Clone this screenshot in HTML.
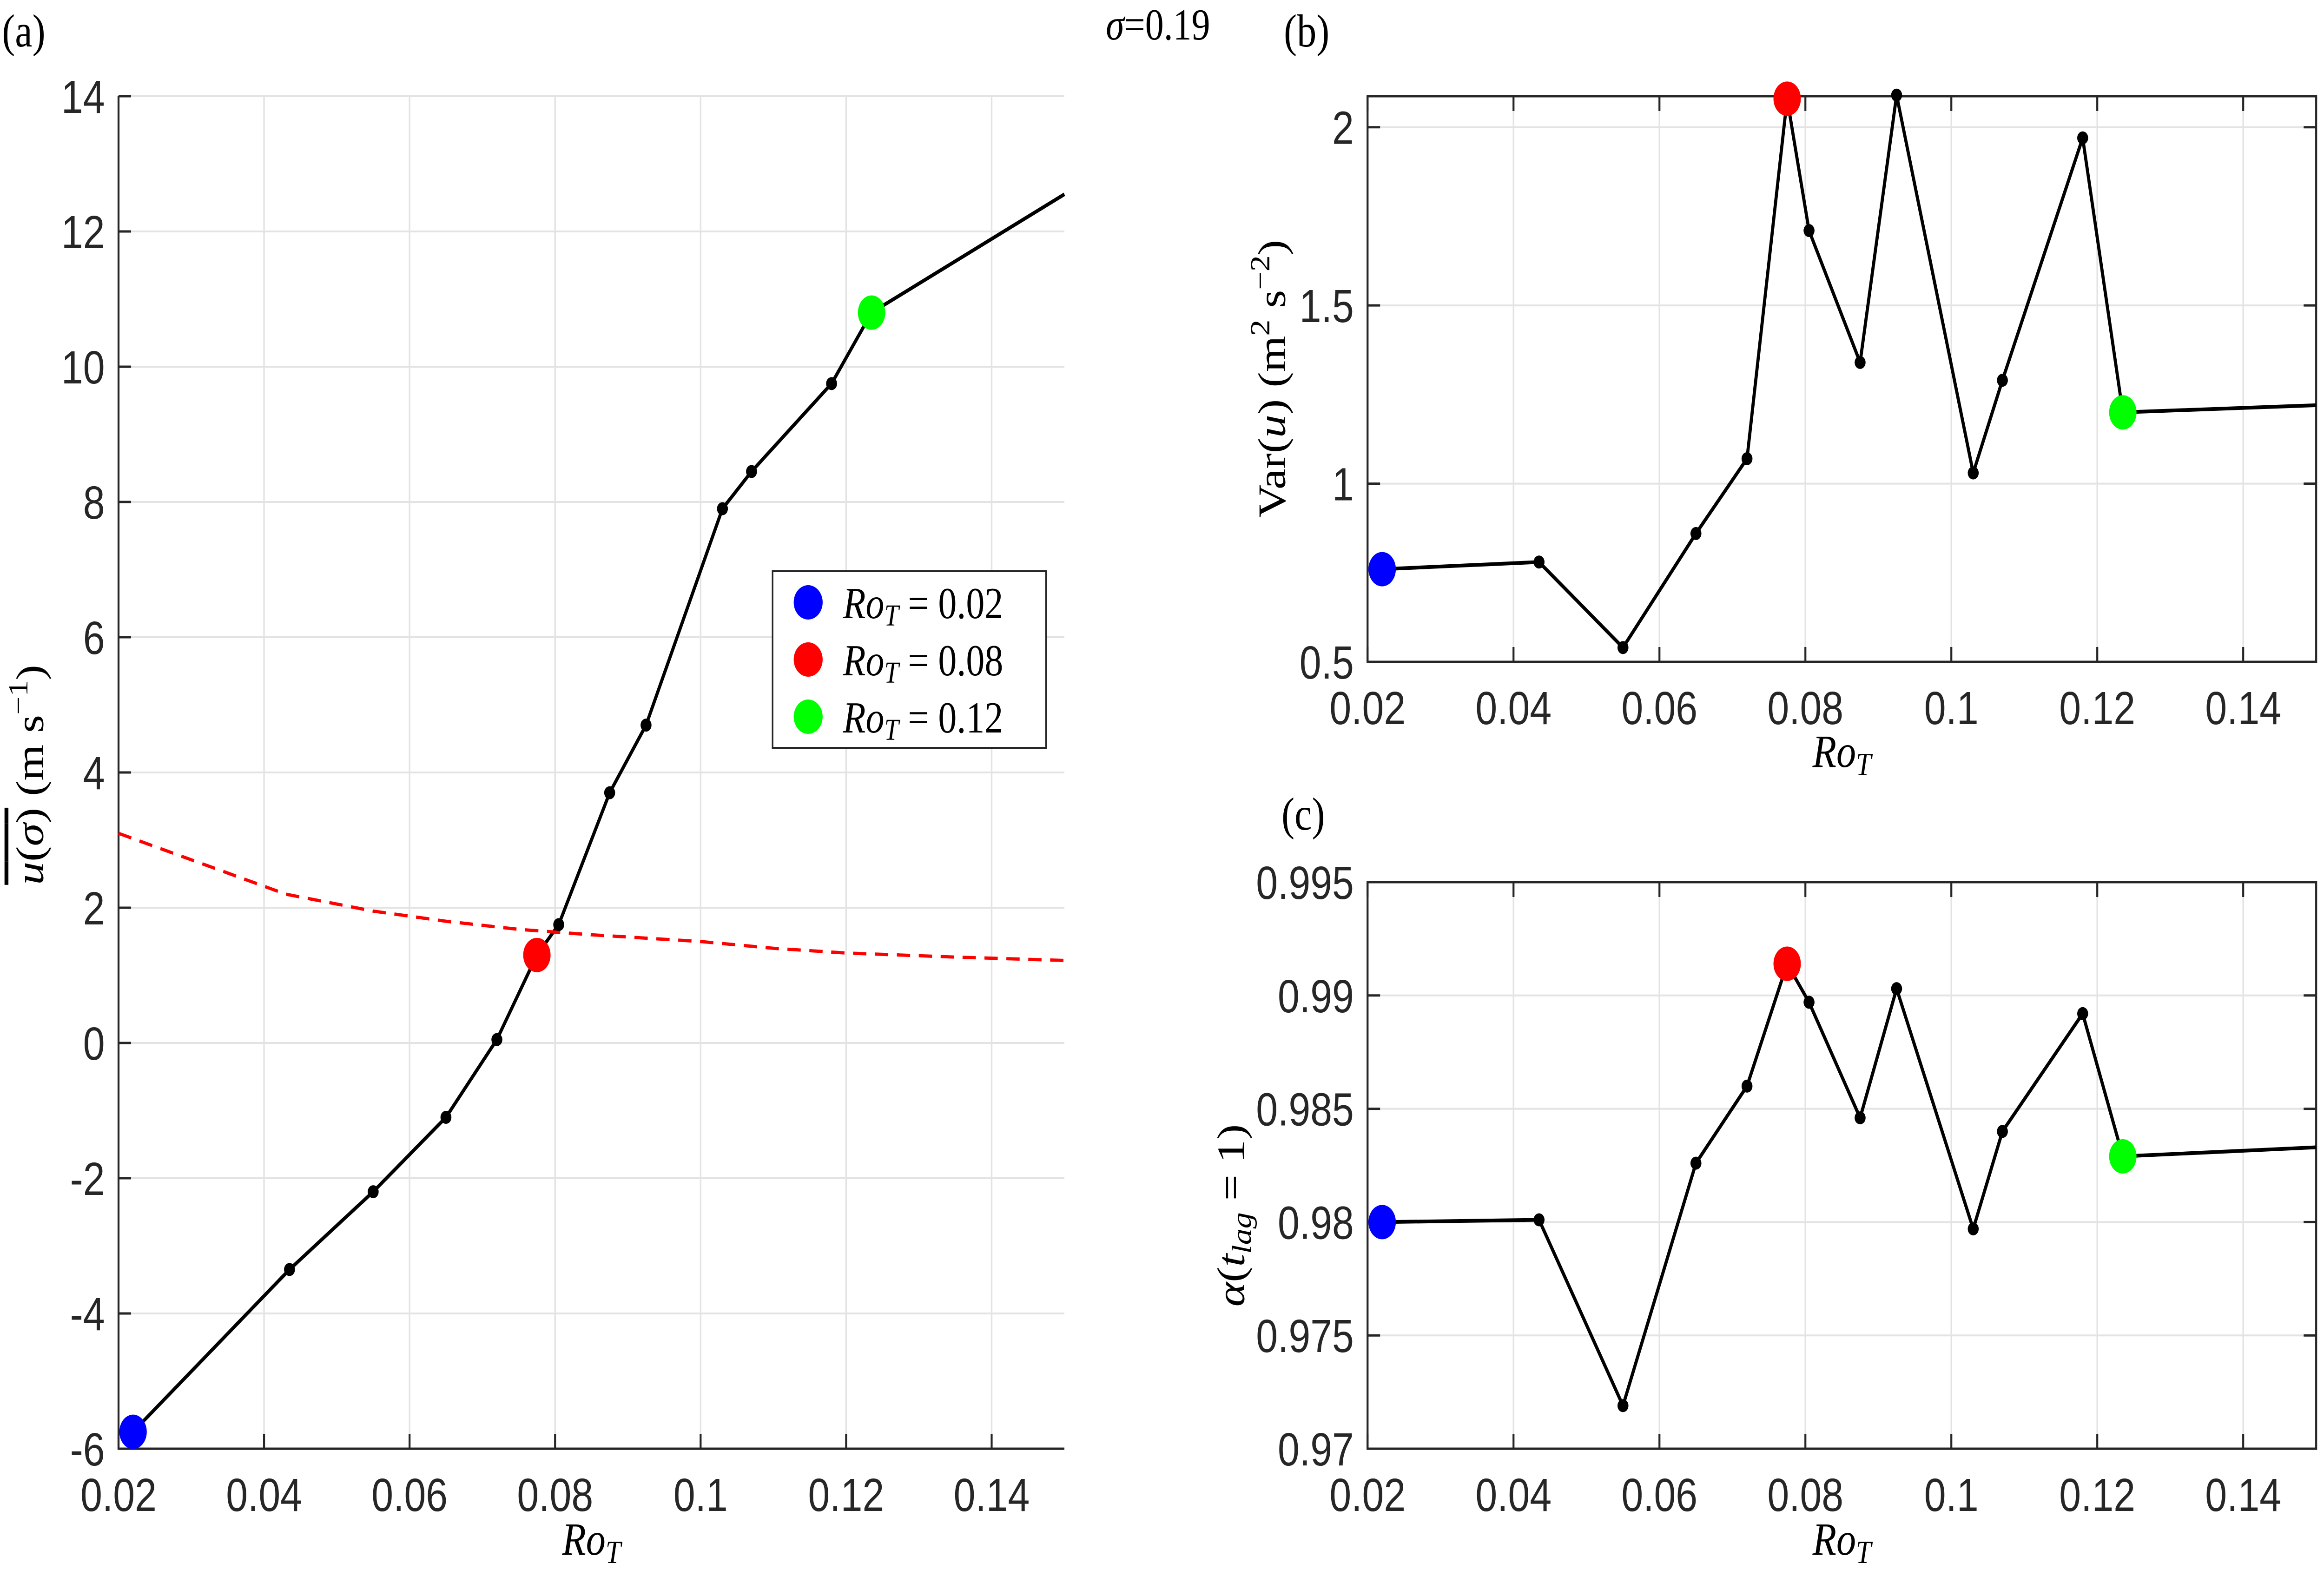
<!DOCTYPE html>
<html><head><meta charset="utf-8"><style>
html,body{margin:0;padding:0;background:#fff;overflow:hidden;width:100%;height:100%}
svg{display:block;width:100vw;height:100vh}
.tick{font-family:"Liberation Sans",sans-serif;font-size:100px;fill:#262626}
.ser{font-family:"Liberation Serif",serif;fill:#000}
</style></head><body>
<svg id="fig" viewBox="0 0 5941 3393" preserveAspectRatio="none" xmlns="http://www.w3.org/2000/svg">
<text class="ser" x="5" y="100" font-size="100">(a)</text>
<text class="ser" x="3282" y="100" font-size="100">(b)</text>
<text class="ser" x="3276" y="1785" font-size="100">(c)</text>
<text class="ser" x="2827" y="85" font-size="95"><tspan font-style="italic">σ</tspan>=0.19</text>
</svg>
<script>
const rot = [0.022,0.0435,0.055,0.065,0.072,0.0775,0.0805,0.0875,0.0925,0.103,0.107,0.118,0.1235,0.15];
const uMean = [-5.75,-3.35,-2.2,-1.1,0.05,1.3,1.75,3.7,4.7,7.9,8.45,9.75,10.8,12.55];
const dashX = [0.02,0.043,0.055,0.065,0.075,0.085,0.1,0.11,0.12,0.135,0.15];
const dashY = [3.1,2.2,1.95,1.8,1.68,1.6,1.5,1.4,1.33,1.27,1.22];
const varU = [0.76,0.78,0.54,0.86,1.07,2.08,1.71,1.34,2.09,1.03,1.29,1.97,1.20,1.22];
const alpha = [0.980,0.9801,0.9719,0.9826,0.9860,0.9914,0.9897,0.9846,0.9903,0.9797,0.9840,0.9892,0.9829,0.9833];
const xTicks = [0.02,0.04,0.06,0.08,0.1,0.12,0.14];
const xTickLabels = ["0.02","0.04","0.06","0.08","0.1","0.12","0.14"];
const aYTicks = [-6,-4,-2,0,2,4,6,8,10,12,14];
const bYTicks = [0.5,1,1.5,2];
const bYLabels = ["0.5","1","1.5","2"];
const cYTicks = [0.97,0.975,0.98,0.985,0.99,0.995];
const cYLabels = ["0.97","0.975","0.98","0.985","0.99","0.995"];
const highlightIdx = [0,5,12];
const highlightColors = ["#0000ff","#ff0000","#00ff00"];
const legendLabels = ["0.02","0.08","0.12"];

const NS="http://www.w3.org/2000/svg";
const svg=document.getElementById('fig');
function el(tag,attrs,parent){const e=document.createElementNS(NS,tag);for(const k in attrs)e.setAttribute(k,attrs[k]);(parent||svg).appendChild(e);return e;}

function panel(name,box,xr,yr,yt,ytl,xs,ys,hasBox,xlabPos){
  const g=el('g',{});
  
  
  const X=v=>box.l+(v-xr[0])/(xr[1]-xr[0])*(box.r-box.l);
  const Y=v=>box.b-(v-yr[0])/(yr[1]-yr[0])*(box.b-box.t);
  xTicks.forEach(t=>{const l=el('line',{x1:X(t),x2:X(t),y1:box.t,y2:box.b,stroke:'#e3e3e3','stroke-width':4},g);
    });
  yt.forEach(t=>{const l=el('line',{x1:box.l,x2:box.r,y1:Y(t),y2:Y(t),stroke:'#e3e3e3','stroke-width':4},g);
    });
  const ax=el('path',{d:hasBox?`M${box.l},${box.t}H${box.r}V${box.b}H${box.l}Z`:`M${box.l},${box.t}V${box.b}H${box.r}`,fill:'none',stroke:'#262626','stroke-width':5},g);
  
  xTicks.forEach((t,i)=>{
    el('line',{x1:X(t),x2:X(t),y1:box.b,y2:box.b-32,stroke:'#262626','stroke-width':5},g);
    if(hasBox) el('line',{x1:X(t),x2:X(t),y1:box.t,y2:box.t+32,stroke:'#262626','stroke-width':5},g);
    const tx=el('text',{x:X(t),y:box.b+134,'text-anchor':'middle',class:'tick'},g);
    tx.textContent=xTickLabels[i];
    
  });
  yt.forEach((t,i)=>{
    el('line',{x1:box.l,x2:box.l+32,y1:Y(t),y2:Y(t),stroke:'#262626','stroke-width':5},g);
    if(hasBox) el('line',{x1:box.r,x2:box.r-32,y1:Y(t),y2:Y(t),stroke:'#262626','stroke-width':5},g);
    const tx=el('text',{x:box.l-35,y:Y(t)+36,'text-anchor':'end',class:'tick'},g);
    tx.textContent=ytl[i];
    
  });
  const xl=el('text',{x:(box.l+box.r)/2,y:xlabPos,'text-anchor':'middle',class:'ser','font-size':100,'font-style':'italic'},g);
  xl.innerHTML='Ro<tspan font-size="70" dy="18">T</tspan>';
  
  const pts=xs.map((x,i)=>X(x)+','+Y(ys[i])).join(' ');
  const pl=el('polyline',{points:pts,fill:'none',stroke:'#000','stroke-width':8,'stroke-linejoin':'round'},g);
  
  for(let i=0;i<xs.length-1;i++){
    const c=el('circle',{cx:X(xs[i]),cy:Y(ys[i]),r:14,fill:'#000'},g);
    
  }
  highlightIdx.forEach((k,j)=>{
    const c=el('ellipse',{cx:X(xs[k]),cy:Y(ys[k]),rx:35,ry:37,fill:highlightColors[j]},g);
    
  });
  return {X,Y,g};
}

const A=panel('panel-a',{l:303,r:2721,t:207,b:3117},[0.02,0.15],[-6,14],aYTicks,aYTicks.map(String),rot,uMean,false,3345);
const dp=el('polyline',{points:dashX.map((x,i)=>A.X(x)+','+A.Y(dashY[i])).join(' '),fill:'none',stroke:'#ff0000','stroke-width':7,'stroke-dasharray':'34,22'},A.g);


A.g.querySelectorAll('circle,ellipse').forEach(n=>A.g.appendChild(n));

panel('panel-b',{l:3496,r:5921,t:207,b:1424},[0.02,0.15],[0.5,2.087],bYTicks,bYLabels,rot,varU,true,1650);
panel('panel-c',{l:3496,r:5921,t:1898,b:3117},[0.02,0.15],[0.97,0.995],cYTicks,cYLabels,rot,alpha,true,3345);

function ylab(name,x,y,html){const t=el('text',{x:0,y:0,'text-anchor':'middle',class:'ser','font-size':100,transform:`translate(${x},${y}) rotate(-90)`});t.innerHTML=html;
  }
ylab('y-axis-title-a',110,1667,'<tspan text-decoration="overline"><tspan font-style="italic">u</tspan>(<tspan font-style="italic">σ</tspan>)</tspan> (m s<tspan font-size="70" dy="-40">−1</tspan><tspan dy="40">)</tspan>');
ylab('y-axis-title-b',3285,815,'Var(<tspan font-style="italic">u</tspan>) (m<tspan font-size="70" dy="-40">2</tspan><tspan dy="40"> s</tspan><tspan font-size="70" dy="-40">−2</tspan><tspan dy="40">)</tspan>');
ylab('y-axis-title-c',3180,2615,'<tspan font-style="italic">α</tspan>(<tspan font-style="italic">t</tspan><tspan font-size="70" dy="18" font-style="italic">lag</tspan><tspan dy="-18"> = 1)</tspan>');

const lg=el('g',{});


el('rect',{x:1975,y:1229,width:699,height:380,fill:'#fff',stroke:'#262626','stroke-width':4},lg);
legendLabels.forEach((lab,j)=>{
  const y=1296+j*123;
  const c=el('ellipse',{cx:2066,cy:y,rx:37,ry:37,fill:highlightColors[j]},lg);
  
  
  const t=el('text',{x:2155,y:y+34,class:'ser','font-size':95},lg);
  t.innerHTML='<tspan font-style="italic">Ro</tspan><tspan font-style="italic" font-size="66" dy="16">T</tspan><tspan dy="-16"> = '+lab+'</tspan>';
  
  
});
</script>
</body></html>
